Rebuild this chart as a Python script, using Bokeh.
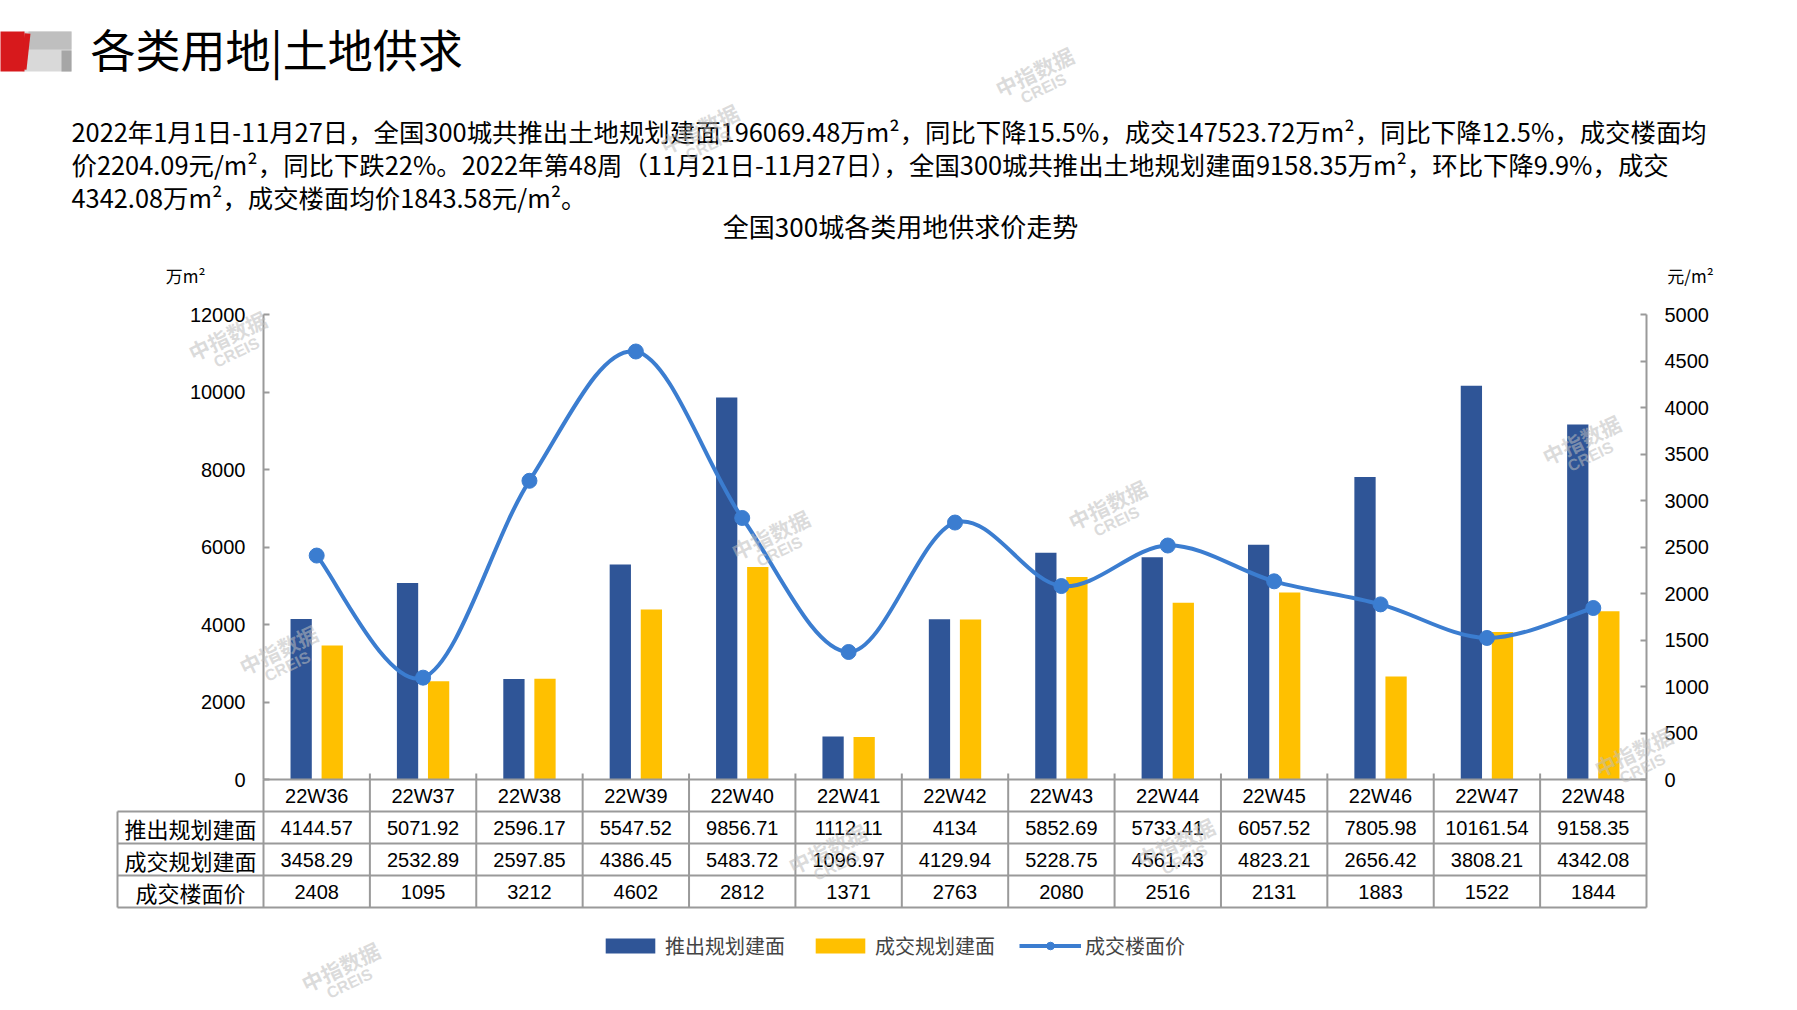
from bokeh.plotting import figure
from bokeh.models import (Range1d, LinearAxis, FixedTicker, Legend, LegendItem,
                          ColumnDataSource)
from bokeh.transform import dodge
from bokeh.core.properties import value
from bokeh.embed import file_html
from bokeh.resources import INLINE

# ---------------- data ----------------
weeks = ["22W36", "22W37", "22W38", "22W39", "22W40", "22W41", "22W42",
         "22W43", "22W44", "22W45", "22W46", "22W47", "22W48"]
supply = [4144.57, 5071.92, 2596.17, 5547.52, 9856.71, 1112.11, 4134,
          5852.69, 5733.41, 6057.52, 7805.98, 10161.54, 9158.35]
deal = [3458.29, 2532.89, 2597.85, 4386.45, 5483.72, 1096.97, 4129.94,
        5228.75, 4561.43, 4823.21, 2656.42, 3808.21, 4342.08]
price = [2408, 1095, 3212, 4602, 2812, 1371, 2763, 2080, 2516, 2131, 1883, 1522, 1844]
left_ticks = [0, 2000, 4000, 6000, 8000, 10000, 12000]
right_ticks = [0, 500, 1000, 1500, 2000, 2500, 3000, 3500, 4000, 4500, 5000]
series_names = ["推出规划建面", "成交规划建面", "成交楼面价"]

title_text = "各类用地|土地供求"
para_lines = [
    "2022年1月1日-11月27日，全国300城共推出土地规划建面196069.48万m²，同比下降15.5%，成交147523.72万m²，同比下降12.5%，成交楼面均",
    "价2204.09元/m²，同比下跌22%。2022年第48周（11月21日-11月27日），全国300城共推出土地规划建面9158.35万m²，环比下降9.9%，成交",
    "4342.08万m²，成交楼面均价1843.58元/m²。",
]
chart_title = "全国300城各类用地供求价走势"
left_unit = "万m²"
right_unit = "元/m²"
watermark = ("中指数据", "CREIS")

# ---------------- layout (canvas pixels) ----------------
W, H = 1790, 1002
FL, FR = 263, 1646          # frame left / right
TOP12K, AX0 = 314, 779      # pixel rows of 12000 and of 0
LMAX, RMAX = 12000, 5000
n = len(weeks)
upp_l = LMAX / (AX0 - TOP12K)
upp_r = RMAX / (AX0 - TOP12K)


def X(px):
    return (px - FL) / (FR - FL) * n


def Y(py):
    return (AX0 - py) * upp_l


BLUE = "#2F5597"
GOLD = "#FFC000"
LINE_C = "#3B7DD0"
GRAY = "#9A9A9A"
CJK = "Noto Sans CJK SC"
LAT = "Liberation Sans"

p = figure(width=W, height=H, x_range=Range1d(0, n),
           y_range=Range1d((AX0 - H) * upp_l, AX0 * upp_l),
           output_backend="svg", toolbar_location=None,
           x_axis_location=None, y_axis_location=None,
           min_border_left=FL, min_border_right=W - FR,
           min_border_top=0, min_border_bottom=0)
p.extra_y_ranges = {"right": Range1d((AX0 - H) * upp_r, AX0 * upp_r)}
for g in p.grid:
    g.visible = False
p.outline_line_color = None
p.background_fill_color = "white"
p.border_fill_color = "white"


def style_axis(ax):
    ax.axis_line_color = GRAY
    ax.axis_line_width = 2
    ax.major_tick_line_color = GRAY
    ax.major_tick_line_width = 2
    ax.major_tick_in = 6
    ax.major_tick_out = 0
    ax.minor_tick_line_color = None
    ax.major_label_text_font = LAT
    ax.major_label_text_font_size = "20px"
    ax.major_label_text_color = "#000000"
    ax.major_label_standoff = 18


yl = LinearAxis(ticker=FixedTicker(ticks=left_ticks), bounds=(0, LMAX))
style_axis(yl)
p.add_layout(yl, "left")
yr = LinearAxis(y_range_name="right", ticker=FixedTicker(ticks=right_ticks), bounds=(0, RMAX))
style_axis(yr)
p.add_layout(yr, "right")


def fmt(v):
    s = f"{v:.2f}"
    return s.rstrip("0").rstrip(".")


xc = [i + 0.5 for i in range(n)]
src = ColumnDataSource(dict(x=xc, week=weeks, supply=supply, deal=deal, price=price,
                            supply_s=[fmt(v) for v in supply],
                            deal_s=[fmt(v) for v in deal],
                            price_s=[str(v) for v in price]))

r1 = p.vbar(x=dodge("x", -0.146), top="supply", width=0.2, source=src,
            fill_color=BLUE, line_color=None)
r2 = p.vbar(x=dodge("x", 0.146), top="deal", width=0.2, source=src,
            fill_color=GOLD, line_color=None)

# smooth bezier segments built from the price series (Catmull-Rom control points)
bx0, by0, bx1, by1, cx0, cy0, cx1, cy1 = [], [], [], [], [], [], [], []
for i in range(n - 1):
    a, b = max(i - 1, 0), min(i + 2, n - 1)
    bx0.append(xc[i]); by0.append(price[i])
    bx1.append(xc[i + 1]); by1.append(price[i + 1])
    cx0.append(xc[i] + (xc[i + 1] - xc[a]) / 6)
    cy0.append(price[i] + (price[i + 1] - price[a]) / 6)
    cx1.append(xc[i + 1] - (xc[b] - xc[i]) / 6)
    cy1.append(price[i + 1] - (price[b] - price[i]) / 6)
rb = p.bezier(x0=bx0, y0=by0, x1=bx1, y1=by1, cx0=cx0, cy0=cy0, cx1=cx1, cy1=cy1,
              line_color=LINE_C, line_width=4, y_range_name="right")
rs = p.scatter("x", "price", source=src, size=15, fill_color=LINE_C, line_color=LINE_C,
               y_range_name="right")

# ---------------- data table under the chart ----------------
row_tops = [779, 811, 843, 875, 907]
lab_left = 117
hx0, hy0, hx1, hy1 = [], [], [], []
for k, ry in enumerate(row_tops):
    hx0.append(0 if k == 0 else X(lab_left)); hx1.append(n)
    hy0.append(Y(ry)); hy1.append(Y(ry))
vx = [X(lab_left), 0] + list(range(1, n)) + [n]
vt = [row_tops[1], row_tops[0]] + [row_tops[0] - 6] * (n - 1) + [row_tops[0]]
for xv, t in zip(vx, vt):
    hx0.append(xv); hx1.append(xv); hy0.append(Y(t)); hy1.append(Y(row_tops[-1]))
seg = p.segment(x0=hx0, y0=hy0, x1=hx1, y1=hy1, line_color=GRAY, line_width=2)
seg.level = "overlay"

row_c = [(row_tops[k] + row_tops[k + 1]) / 2 for k in range(4)]
for col, yc in zip(["week", "supply_s", "deal_s", "price_s"], row_c):
    p.text(x="x", y=Y(yc), text=col, source=src, text_align="center",
           text_baseline="middle", text_font=value(LAT), text_font_size="20px",
           text_color="#000000")
rl = p.text(x=[X((lab_left + FL) / 2)] * 3, y=[Y(c) for c in row_c[1:]], text=series_names,
            text_align="center", text_baseline="middle", text_font=value(CJK),
            text_font_size="22px", text_color="#000000")
rl.level = "overlay"

# ---------------- legend ----------------
legend = Legend(items=[LegendItem(label=series_names[0], renderers=[r1]),
                       LegendItem(label=series_names[1], renderers=[r2]),
                       LegendItem(label=series_names[2], renderers=[rb, rs])],
                orientation="horizontal", location=(599 - FL, H - 960),
                glyph_width=62, glyph_height=19, label_standoff=4, spacing=24,
                padding=0, margin=0, border_line_color=None, background_fill_alpha=0,
                label_text_font=CJK, label_text_font_size="20px", label_height=20)
p.add_layout(legend)


# ---------------- header texts (text glyphs) ----------------
def add_text(px, py, txt, size, font=CJK, align="left", angle=0.0, color="#000000",
             alpha=1.0, style="normal"):
    r = p.text(x=[X(px)], y=[Y(py)], text=[txt], text_font=value(font),
               text_font_size=size, text_align=align, text_baseline="middle",
               angle=angle, text_color=color, text_alpha=alpha, text_font_style=style)
    r.level = "overlay"
    return r


add_text(90, 48, title_text, "45px")
for ln, py in zip(para_lines, [130, 163, 196]):
    add_text(71, py, ln, "25.4px")
add_text(900, 225, chart_title, "26px", align="center")
add_text(185, 275, left_unit, "17px", align="center")
add_text(1690, 275, right_unit, "17px", align="center")

# ---------------- logo (thick segments) ----------------
logo = [  # (x0, y0, x1, y1, width, color)
    (46.5, 31, 46.5, 71, 49, "#D9D9D9"),
    (28, 40, 71, 40, 18, "#BFBFBF"),
    (66, 50, 66, 71, 10, "#A6A6A6"),
    (12, 31, 12, 71, 24, "#D7191C"),
    (27, 33, 23, 69, 6, "#D7191C"),
]
lg = p.segment(x0=[X(s[0]) for s in logo], y0=[Y(s[1]) for s in logo],
               x1=[X(s[2]) for s in logo], y1=[Y(s[3]) for s in logo],
               line_width=[s[4] for s in logo], line_color=[s[5] for s in logo])
lg.level = "overlay"

# ---------------- watermarks ----------------
wm = [(227, 335), (278, 649), (699, 128), (1034, 71), (770, 534), (1107, 504),
      (1581, 439), (1633, 751), (827, 848), (1175, 842), (340, 966)]
for (wx, wy) in wm:
    add_text(wx, wy, watermark[0], "21px", align="center", angle=0.45,
             color="#BDBDBD", alpha=0.55, style="bold")
    add_text(wx + 9, wy + 17, watermark[1], "16px", font=LAT, align="center", angle=0.45,
             color="#BDBDBD", alpha=0.55, style="bold")

open("out.html", "w").write(file_html(p, INLINE))
